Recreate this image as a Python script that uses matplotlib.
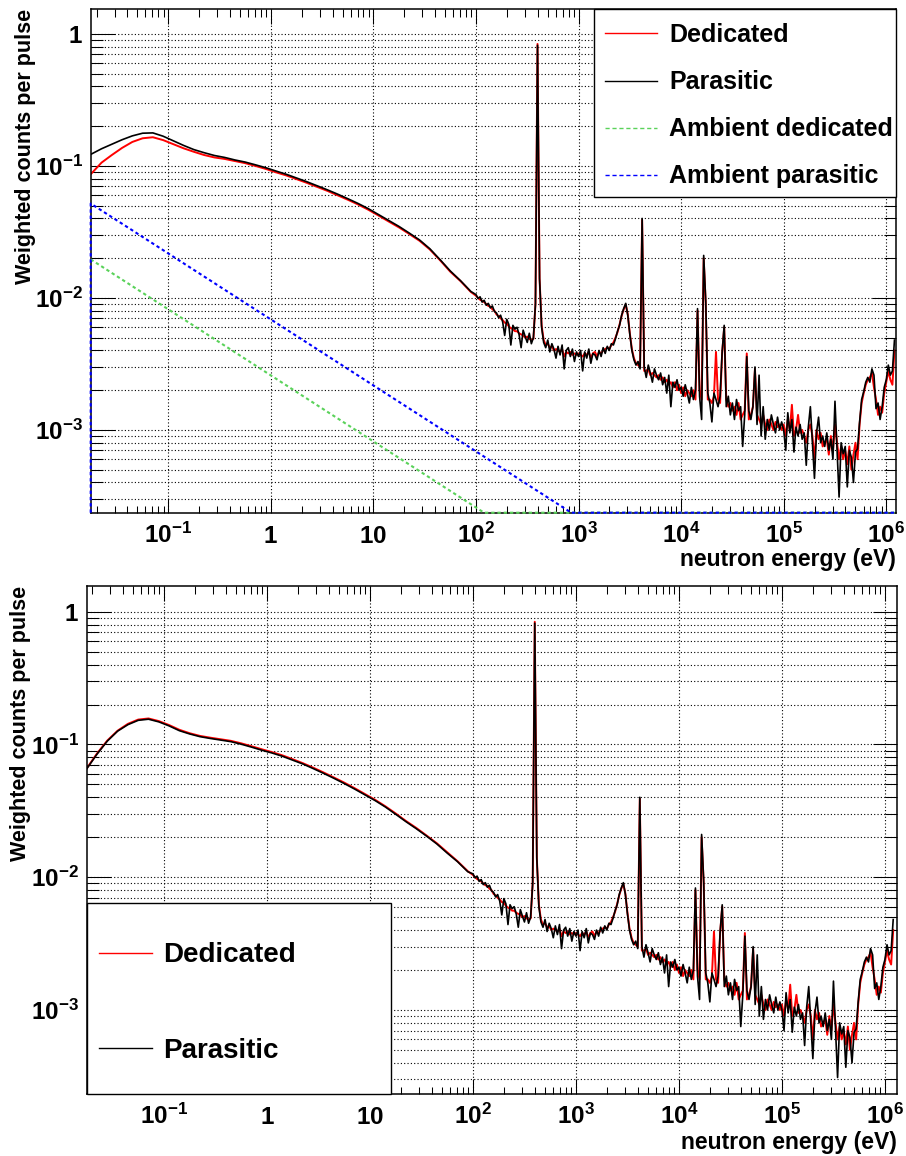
"""Neutron flux spectra, dedicated vs parasitic pulses. Two log-log panels, ROOT look."""

import numpy as np
import matplotlib

matplotlib.use("Agg")
import matplotlib.pyplot as plt
from matplotlib.lines import Line2D
from matplotlib.patches import Rectangle
from matplotlib.ticker import FixedLocator, FixedFormatter, LogLocator, NullFormatter

plt.rcParams.update({
    "font.family": ["Liberation Sans", "DejaVu Sans"],
    "font.weight": "bold",
    "mathtext.fontset": "custom",
    "mathtext.rm": "Liberation Sans:bold",
    "mathtext.it": "Liberation Sans:bold",
    "mathtext.bf": "Liberation Sans:bold",
    "mathtext.sf": "Liberation Sans:bold",
})

# ---- data ----
# smooth part: log10(E/eV) grid of bin centres, 10 per decade
LOW_LOGE = np.linspace(-1.75, 1.95, 38)
TOP_LOW_RED = [0.0875, 0.106, 0.121, 0.137, 0.152, 0.162, 0.165, 0.157, 0.146, 0.136,
               0.128, 0.121, 0.116, 0.113, 0.109, 0.105, 0.100, 0.095, 0.0895, 0.0848,
               0.0795, 0.0745, 0.0695, 0.0648, 0.0600, 0.0555, 0.0511, 0.0466, 0.0421, 0.0379,
               0.0342, 0.0305, 0.0271, 0.0233, 0.0193, 0.0158, 0.0134, 0.0111]
TOP_LOW_BLACK = [0.123, 0.135, 0.146, 0.158, 0.169, 0.177, 0.178, 0.168, 0.155, 0.143,
                 0.133, 0.126, 0.120, 0.116, 0.111, 0.107, 0.102, 0.097, 0.0915, 0.0865,
                 0.081, 0.076, 0.0708, 0.066, 0.0612, 0.0565, 0.052, 0.0475, 0.0428, 0.0385,
                 0.0348, 0.031, 0.0275, 0.0236, 0.0195, 0.0160, 0.0135, 0.0112]
BOT_LOW_RED = [0.066, 0.0855, 0.107, 0.127, 0.143, 0.154, 0.157, 0.150, 0.140, 0.129,
               0.1215, 0.116, 0.1125, 0.1095, 0.1065, 0.102, 0.097, 0.092, 0.0875, 0.0828,
               0.0774, 0.0722, 0.0668, 0.0615, 0.0564, 0.0516, 0.0469, 0.0424, 0.0383, 0.0342,
               0.0302, 0.0265, 0.0235, 0.0206, 0.0180, 0.0154, 0.0132, 0.0111]
BOT_LOW_BLACK = [0.0655, 0.0845, 0.106, 0.126, 0.141, 0.152, 0.155, 0.148, 0.138, 0.127,
                 0.120, 0.1145, 0.111, 0.108, 0.105, 0.1005, 0.0955, 0.0905, 0.0862, 0.0815,
                 0.0762, 0.0712, 0.0658, 0.0606, 0.0556, 0.0508, 0.0462, 0.0418, 0.0378, 0.0338,
                 0.0298, 0.0262, 0.0232, 0.0204, 0.0178, 0.0152, 0.0131, 0.0110]

# resonance part: 50 bins per decade from 100 eV, values in 1e-3 counts/pulse
HIGH_LOGE = np.linspace(2.0, 6.08, 205)
HIGH_RED_MILLI = [
    10.4, 10.0, 9.7, 9.5, 9.3, 9.0, 8.7, 8.6, 8.2, 8.0,
    7.5, 7.3, 7.0, 6.8, 6.5, 6.4, 6.1, 5.9, 5.8, 5.6,
    5.6, 5.4, 5.3, 5.2, 5.0, 5.1, 4.9, 4.8, 4.9, 9.0,
    840, 14, 6.2, 4.8, 4.4, 4.5, 4.2, 4.3, 4.0, 4.1,
    4.0, 3.9, 4.1, 3.6, 3.9, 3.8, 3.9, 3.7, 3.8, 3.7,
    3.8, 3.7, 3.6, 3.8, 3.7, 3.9, 3.5, 3.8, 3.9, 3.6,
    3.9, 3.8, 4.0, 4.1, 4.2, 4.1, 4.4, 4.6, 5.0, 5.5,
    6.3, 7.3, 8.2, 8.9, 7.5, 5.4, 4.1, 3.5, 3.2, 3.1,
    3.0, 39, 2.8, 2.8, 2.9, 2.6, 2.7, 2.6, 2.5, 2.6,
    2.4, 2.5, 2.3, 2.4, 2.2, 2.3, 2.1, 2.3, 2.0, 2.2,
    1.9, 2.1, 1.8, 2.0, 1.9, 1.8, 2.0, 1.7, 8.0, 2.0,
    1.7, 20, 9.0, 1.7, 1.7, 1.6, 1.8, 3.9, 1.7, 1.6,
    3.8, 6.0, 1.7, 1.5, 1.6, 1.4, 1.5, 1.3, 1.6, 1.2,
    1.3, 1.4, 3.8, 1.2, 1.3, 1.5, 2.9, 1.3, 1.2, 1.1,
    1.3, 1.1, 1.0, 1.2, 1.1, 1.0, 1.15, 1.05, 1.1, 1.0,
    1.1, 0.9, 1.2, 1.0, 1.55, 0.9, 1.0, 1.3, 0.95, 1.0,
    0.9, 0.8, 1.0, 1.1, 0.9, 0.6, 1.0, 0.85, 0.95, 0.75,
    0.8, 0.85, 0.65, 0.9, 0.7, 1.1, 0.8, 0.6, 0.75, 0.6,
    0.7, 0.55, 0.75, 0.5, 0.65, 0.8, 0.6, 1.1, 1.6, 1.9,
    2.2, 2.4, 2.5, 2.7, 2.1, 1.7, 1.3, 1.5, 1.35, 1.9,
    2.3, 2.8, 2.4, 2.2, 4.0,
]
HIGH_BLACK_MILLI = [
    10.6, 9.9, 10.2, 9.3, 9.6, 8.8, 9.1, 8.4, 8.7, 7.9,
    7.7, 7.1, 7.4, 6.6, 5.2, 6.9, 6.3, 4.4, 6.2, 5.8,
    6.0, 5.3, 4.2, 5.7, 5.1, 4.6, 5.4, 4.5, 5.0, 9.0,
    820, 14, 6.0, 4.6, 4.2, 4.8, 3.9, 4.5, 4.1, 3.5,
    4.3, 3.7, 4.4, 2.9, 4.0, 4.2, 3.6, 4.1, 3.3, 3.9,
    3.6, 4.0, 2.8, 3.9, 3.5, 4.1, 3.2, 3.8, 3.7, 3.4,
    4.0, 3.6, 4.2, 3.8, 4.3, 4.0, 4.5, 4.4, 4.9, 5.6,
    6.2, 7.4, 8.3, 9.1, 7.4, 5.3, 4.0, 3.4, 3.1, 3.3,
    2.9, 40, 3.0, 2.5, 3.1, 2.7, 2.3, 2.9, 2.6, 2.4,
    2.7, 2.2, 2.5, 1.9, 2.6, 1.5, 2.3, 2.1, 2.4, 2.0,
    2.1, 1.8, 2.2, 1.9, 1.6, 2.1, 1.7, 2.0, 8.3, 1.8,
    1.2, 21, 9.5, 1.9, 1.6, 1.15, 1.9, 1.7, 1.5, 1.8,
    3.9, 6.2, 1.5, 1.8, 1.3, 1.6, 1.2, 1.7, 1.4, 1.5,
    0.75, 1.3, 3.6, 1.4, 1.2, 1.5, 3.0, 1.1, 2.6, 0.9,
    1.5, 0.85, 1.2, 1.0, 1.3, 1.1, 0.95, 1.25, 1.0, 1.15,
    1.0, 0.7, 1.35, 0.95, 1.2, 0.68, 1.05, 0.9, 1.1, 0.85,
    0.95, 0.54, 1.05, 1.5, 0.8, 0.43, 0.95, 1.25, 0.8, 0.9,
    0.75, 0.95, 0.7, 0.85, 0.6, 1.65, 0.72, 0.31, 0.8, 0.66,
    0.75, 0.37, 0.7, 0.62, 0.4, 0.68, 0.72, 1.15, 1.7, 1.95,
    2.3, 2.5, 2.3, 2.9, 2.6, 1.45, 1.6, 1.2, 1.5, 2.1,
    2.4, 3.1, 2.6, 2.8, 4.8,
]

# ambient background lines (E in eV); they run along the axis floor once below it
Y_FLOOR = 2.36e-4
AMB_DED_E = [0.01754, 120, 1.24e6]
AMB_DED_Y = [0.0196, Y_FLOOR, Y_FLOOR]
AMB_PAR_E = [0.01754, 0.01754, 850, 1.24e6]
AMB_PAR_Y = [Y_FLOOR, 0.0519, Y_FLOOR, Y_FLOOR]

X_MAJOR = [1e-1, 1, 10, 1e2, 1e3, 1e4, 1e5, 1e6]
X_LABELS = [r"$10^{-1}$", r"$1$", r"$10$", r"$10^{2}$", r"$10^{3}$",
            r"$10^{4}$", r"$10^{5}$", r"$10^{6}$"]
Y_MAJOR = [1e-3, 1e-2, 1e-1, 1]
Y_LABELS = [r"$10^{-3}$", r"$10^{-2}$", r"$10^{-1}$", r"$1$"]

RED = "#ff0000"
GREEN = "#5ad25a"
BLUE = "#0000ff"

W, H = 906, 1156
fig = plt.figure(figsize=(W / 100, H / 100), dpi=100)


def fx(x):
    return x / W


def fy(y):
    return 1 - y / H


def axes_px(left, top, right, bottom):
    return fig.add_axes([fx(left), fy(bottom), (right - left) / W, (bottom - top) / H])


def style_axes(ax, xlog, ylog):
    ax.set_xscale("log")
    ax.set_yscale("log")
    ax.set_xlim(10 ** xlog[0], 10 ** xlog[1])
    ax.set_ylim(10 ** ylog[0], 10 ** ylog[1])
    ax.xaxis.set_major_locator(FixedLocator(X_MAJOR))
    ax.xaxis.set_major_formatter(FixedFormatter(X_LABELS))
    ax.xaxis.set_minor_locator(LogLocator(base=10, subs=np.arange(2, 10), numticks=100))
    ax.xaxis.set_minor_formatter(NullFormatter())
    ax.yaxis.set_major_locator(FixedLocator(Y_MAJOR))
    ax.yaxis.set_major_formatter(FixedFormatter(Y_LABELS))
    ax.yaxis.set_minor_locator(LogLocator(base=10, subs=np.arange(2, 10), numticks=100))
    ax.yaxis.set_minor_formatter(NullFormatter())
    ax.tick_params(which="both", direction="in", top=True, right=True, width=0.75,
                   labelsize=17.5)
    ax.tick_params(axis="x", which="major", length=10.8, pad=21.5)
    ax.tick_params(axis="x", which="minor", length=5.4)
    ax.tick_params(axis="y", which="major", length=17.3, pad=5.5)
    ax.tick_params(axis="y", which="minor", length=8.6)
    for t in ax.xaxis.get_major_ticks():
        t.label1.set_verticalalignment("baseline")
    dots = dict(color="black", linestyle=(0, (1, 2)), linewidth=0.8)
    ax.grid(True, which="major", axis="both", **dots)
    ax.grid(True, which="minor", axis="y", **dots)
    for s in ax.spines.values():
        s.set_linewidth(1.1)


def spectrum(low_vals, high_milli):
    e = np.concatenate([10 ** LOW_LOGE, 10 ** HIGH_LOGE])
    v = np.concatenate([np.asarray(low_vals), np.asarray(high_milli) * 1e-3])
    return e, v


def legend_px(box, rows, entries, fontsize, line_x, text_x):
    x0, y0, x1, y1 = box
    fig.add_artist(Rectangle((fx(x0), fy(y1)), (x1 - x0) / W, (y1 - y0) / H,
                             transform=fig.transFigure, facecolor="white",
                             edgecolor="black", linewidth=1.0, zorder=10))
    cap = 0.716 * fontsize * 100 / 72
    for (label, color, ls), yr in zip(entries, rows):
        fig.add_artist(Line2D([fx(line_x[0]), fx(line_x[1])], [fy(yr), fy(yr)],
                              transform=fig.transFigure, color=color, linestyle=ls,
                              linewidth=1.0, zorder=11))
        fig.text(fx(text_x), fy(yr + cap / 2), label, fontsize=fontsize,
                 fontweight="bold", ha="left", va="baseline", zorder=12)


def draw_panel(ax, low_red, low_black):
    e, v = spectrum(low_red, HIGH_RED_MILLI)
    ax.plot(e, v, color=RED, linewidth=1.4, zorder=2)
    e, v = spectrum(low_black, HIGH_BLACK_MILLI)
    ax.plot(e, v, color="black", linewidth=1.2, zorder=2.1)


# ---- top panel ----
ax = axes_px(90.7, 9, 895.7, 512.7)
style_axes(ax, (-1.756, 6.092), (-3.627, 0.189))
draw_panel(ax, TOP_LOW_RED, TOP_LOW_BLACK)
ax.plot(AMB_DED_E, AMB_DED_Y, color=GREEN, linewidth=1.5, dashes=(1.6, 1.4),
        clip_on=False, zorder=3)
ax.plot(AMB_PAR_E, AMB_PAR_Y, color=BLUE, linewidth=1.5, dashes=(1.6, 1.4),
        clip_on=False, zorder=3)

fig.text(fx(26), fy(9), "Weighted counts per pulse", rotation=90, fontsize=15.5,
         fontweight="bold", ha="center", va="top")
fig.text(fx(895.7), fy(566), "neutron energy (eV)", fontsize=16.5,
         fontweight="bold", ha="right", va="baseline")

legend_px((594, 9, 895.7, 197), [33, 80.5, 127.5, 174.5],
          [("Dedicated", RED, "-"), ("Parasitic", "black", "-"),
           ("Ambient dedicated", GREEN, (0, (3, 2))),
           ("Ambient parasitic", BLUE, (0, (3, 2)))],
          18, (605, 657), 669)

# ---- bottom panel ----
ax = axes_px(86.7, 585.7, 896.7, 1094)
style_axes(ax, (-1.750, 6.114), (-3.633, 0.196))
draw_panel(ax, BOT_LOW_RED, BOT_LOW_BLACK)

fig.text(fx(21), fy(585.7), "Weighted counts per pulse", rotation=90, fontsize=15.5,
         fontweight="bold", ha="center", va="top")
fig.text(fx(896.7), fy(1149), "neutron energy (eV)", fontsize=16.5,
         fontweight="bold", ha="right", va="baseline")

legend_px((86.7, 903.3, 391, 1094), [952.5, 1048],
          [("Dedicated", RED, "-"), ("Parasitic", "black", "-")],
          20, (99, 151.7), 163)

fig.savefig("out.png", dpi=100)
